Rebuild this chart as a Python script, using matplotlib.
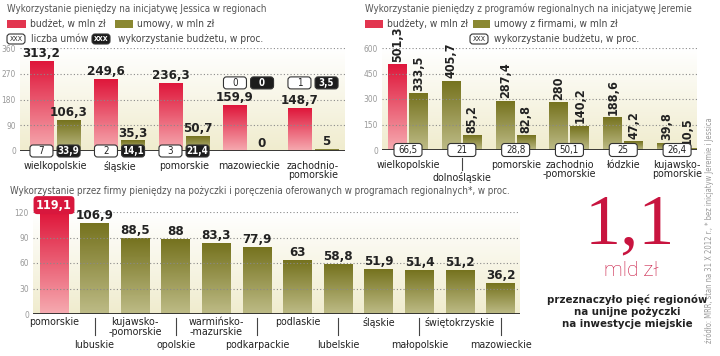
import numpy as np
import matplotlib.pyplot as plt
from matplotlib.colors import LinearSegmentedColormap
from matplotlib.patches import FancyBboxPatch, Rectangle
from matplotlib.transforms import IdentityTransform

plt.rcParams['font.family'] = ['DejaVu Sans']
plt.rcParams['font.stretch'] = 'condensed'

# --- Jessica (top left)
jes_regions = ['wielkopolskie', 'śląskie', 'pomorskie', 'mazowieckie', 'zachodnio-\npomorskie']
jes_budget = [313.2, 249.6, 236.3, 159.9, 148.7]
jes_deals = [106.3, 35.3, 50.7, 0, 5]
jes_count = ['7', '2', '3', '0', '1']
jes_pct = ['33,9', '14,1', '21,4', '0', '3,5']
jes_ticks = [0, 90, 180, 270, 360]

# --- Jeremie (top right)
jer_regions = ['wielkopolskie', 'dolnośląskie', 'pomorskie', 'zachodnio\n-pomorskie',
               'łódzkie', 'kujawsko-\npomorskie']
jer_first = [501.3, 405.7, 287.4, 280, 188.6, 39.8]
jer_second = [333.5, 85.2, 82.8, 140.2, 47.2, 10.5]
jer_pct = ['66,5', '21', '28,8', '50,1', '25', '26,4']
jer_ticks = [0, 150, 300, 450, 600]

# --- loans (bottom)
loan_regions = ['pomorskie', 'lubuskie', 'kujawsko-\n-pomorskie', 'opolskie',
                'warmińsko-\n-mazurskie', 'podkarpackie', 'podlaskie', 'lubelskie',
                'śląskie', 'małopolskie', 'świętokrzyskie', 'mazowieckie']
loan_pct = [119.1, 106.9, 88.5, 88, 83.3, 77.9, 63, 58.8, 51.9, 51.4, 51.2, 36.2]
loan_ticks = [0, 30, 60, 90, 120]

RED_TOP, RED_BOT = '#df173b', '#f6aab0'
OLV_TOP, OLV_BOT = '#76731f', '#bdbb86'
BG_BOT, BG_TOP = '#f0ecce', '#ffffff'
W, H = 720, 356
LAB_FS = 7.7
VAL_FS = 9

fig = plt.figure(figsize=(7.2, 3.56), dpi=100)


def fmt(v):
    return f'{v:g}'.replace('.', ',')


def px_axes(l, r, top, bot):
    return fig.add_axes([l / W, 1 - bot / H, (r - l) / W, (bot - top) / H])


def setup(ax, xlim, ticks):
    ylim = (0, ticks[-1])
    cm = LinearSegmentedColormap.from_list('bg', [BG_BOT, BG_TOP])
    ax.imshow(np.linspace(0, 1, 64).reshape(-1, 1), cmap=cm, origin='lower',
              extent=(*xlim, *ylim), aspect='auto', zorder=0)
    for t in ticks[1:]:
        ax.axhline(t, color='#8a8a8a', lw=0.8, ls=(0, (1, 2)), zorder=2.5)
    ax.axhline(0, color='#2a2a2a', lw=1.3, zorder=3)
    ax.set_xlim(xlim)
    ax.set_ylim(ylim)
    ax.set_yticks(ticks)
    ax.set_xticks([])
    ax.tick_params(axis='y', length=0, labelsize=6, labelcolor='#999999', pad=3)
    for s in ax.spines.values():
        s.set_visible(False)


def grad_bar(ax, x, h, w, top, bot):
    if h <= 0:
        return
    cm = LinearSegmentedColormap.from_list('b', [bot, top])
    ax.imshow(np.linspace(0, 1, 64).reshape(-1, 1), cmap=cm, origin='lower',
              extent=(x - w / 2, x + w / 2, 0, h), aspect='auto', zorder=2)


def pbox(cx, cy, w, h, text, dark=False, fs=7):
    # cx, cy in image pixels (y down)
    fc, tc = ('#1c1c1c', 'white') if dark else ('white', '#222222')
    p = FancyBboxPatch((cx - w / 2, H - cy - h / 2), w, h,
                       boxstyle='round,pad=0,rounding_size=3',
                       transform=IdentityTransform(), fc=fc, ec='#333333', lw=0.8,
                       zorder=6)
    fig.add_artist(p)
    fig.text(cx / W, 1 - cy / H, text, ha='center', va='center', fontsize=fs,
             color=tc, fontweight='bold' if dark else 'normal', zorder=7)


def to_px(ax, x, y):
    dx, dy = ax.transData.transform((x, y))
    return dx, H - dy


# ---------------- panel 1
ax1 = px_axes(20, 345, 48, 151)
xl1 = (-0.543, 4.496)
setup(ax1, xl1, jes_ticks)
bw1, off1 = 0.36, 0.21
for i in range(len(jes_regions)):
    grad_bar(ax1, i - off1, jes_budget[i], bw1, RED_TOP, RED_BOT)
    grad_bar(ax1, i + off1, jes_deals[i], bw1, OLV_TOP, OLV_BOT)
    for x, v in ((i - off1, jes_budget[i]), (i + off1, jes_deals[i])):
        ax1.annotate(fmt(v), (x, v), xytext=(0, 1), textcoords='offset points',
                     ha='center', va='bottom', fontsize=VAL_FS + 0.5, fontweight='bold',
                     color='#222222', annotation_clip=False)
    ax1.annotate(jes_regions[i], (i, 0), xytext=(0, -7), textcoords='offset points',
                 ha='center', va='top', fontsize=LAB_FS, color='#222222',
                 linespacing=0.95, annotation_clip=False)
ax1.set_xlim(xl1)
for i in range(len(jes_regions)):
    yv = 0 if jes_budget[i] > 200 else 238
    x0, y0 = to_px(ax1, i - off1, yv)
    x1, y1 = to_px(ax1, i + off1, yv)
    pbox(x0, y0, 23, 12, jes_count[i])
    pbox(x1, y1, 23, 12, jes_pct[i], dark=True)

# ---------------- panel 2
ax2 = px_axes(382, 697, 48, 150)
xl2 = (-0.483, 5.37)
setup(ax2, xl2, jer_ticks)
bw2, off2 = 0.353, 0.195
for i in range(len(jer_regions)):
    first_top, first_bot = (RED_TOP, RED_BOT) if i == 0 else (OLV_TOP, OLV_BOT)
    grad_bar(ax2, i - off2, jer_first[i], bw2, first_top, first_bot)
    grad_bar(ax2, i + off2, jer_second[i], bw2, OLV_TOP, OLV_BOT)
    for x, v in ((i - off2, jer_first[i]), (i + off2, jer_second[i])):
        ax2.annotate(fmt(v), (x, v), xytext=(0, 2), textcoords='offset points',
                     ha='center', va='bottom', rotation=90, fontsize=VAL_FS,
                     fontweight='bold', color='#222222', annotation_clip=False)
    low = (i == 1)
    ax2.annotate(jer_regions[i], (i, 0), xytext=(0, -15.5 if low else -7),
                 textcoords='offset points', ha='center', va='top', fontsize=LAB_FS,
                 color='#222222', linespacing=0.95, annotation_clip=False)
ax2.set_xlim(xl2)
for i in range(len(jer_regions)):
    cx, cy = to_px(ax2, i, 0)
    pbox(cx, cy, 28, 13, jer_pct[i])
cx, _ = to_px(ax2, 1, 0)
fig.add_artist(plt.Line2D([cx / W] * 2, [1 - 158 / H, 1 - 170 / H], color='#444444', lw=0.8))

# ---------------- panel 3
ax3 = px_axes(33, 520, 212, 314)
xl3 = (-0.517, 11.478)
setup(ax3, xl3, loan_ticks)
for i, v in enumerate(loan_pct):
    top, bot = (RED_TOP, RED_BOT) if i == 0 else (OLV_TOP, OLV_BOT)
    grad_bar(ax3, i, v, 0.71, top, bot)
    if i == 0:
        ax3.annotate(fmt(v), (i, v), xytext=(0, 5.5), textcoords='offset points',
                     ha='center', va='center', fontsize=VAL_FS, fontweight='bold',
                     color='white', annotation_clip=False,
                     bbox=dict(boxstyle='round,pad=0.2,rounding_size=0.3',
                               fc='#d8173d', ec='none'))
    else:
        ax3.annotate(fmt(v), (i, v), xytext=(0, 1), textcoords='offset points',
                     ha='center', va='bottom', fontsize=VAL_FS + 0.5, fontweight='bold',
                     color='#222222', annotation_clip=False)
    odd = i % 2 == 1
    ax3.annotate(loan_regions[i], (i, 0), xytext=(0, -18.5 if odd else -2.5),
                 textcoords='offset points', ha='center', va='top', fontsize=LAB_FS,
                 color='#222222', linespacing=0.95, annotation_clip=False)
ax3.set_xlim(xl3)
for i in range(1, len(loan_regions), 2):
    cx, _ = to_px(ax3, i, 0)
    fig.add_artist(plt.Line2D([cx / W] * 2, [1 - 318 / H, 1 - 335 / H],
                              color='#444444', lw=0.8))

# ---------------- titles and legends
tkw = dict(fontsize=7, color='#555555')
fig.text(7 / W, 1 - 9 / H, 'Wykorzystanie pieniędzy na inicjatywę Jessica w regionach',
         va='center', **tkw)
fig.text(365 / W, 1 - 9 / H,
         'Wykorzystanie pieniędzy z programów regionalnych na inicjatywę Jeremie',
         va='center', **tkw)
fig.text(10 / W, 1 - 191 / H,
         'Wykorzystanie przez firmy pieniędzy na pożyczki i poręczenia oferowanych '
         'w programach regionalnych*, w proc.', va='center', **tkw)


def patch(x, y, w, c):
    fig.add_artist(Rectangle((x / W, 1 - (y + 4) / H), w / W, 8 / H,
                             transform=fig.transFigure, fc=c, ec='none'))


lkw = dict(fontsize=7.3, color='#444444', va='center')
patch(7, 24, 19, '#e2354f')
fig.text(30 / W, 1 - 24 / H, 'budżet, w mln zł', **lkw)
patch(115, 24, 18, '#8a8832')
fig.text(137 / W, 1 - 24 / H, 'umowy, w mln zł', **lkw)
pbox(16, 39, 18, 10, 'XXX', fs=5)
fig.text(31 / W, 1 - 39 / H, 'liczba umów', **lkw)
pbox(101, 39, 18, 10, 'XXX', dark=True, fs=5)
fig.text(118 / W, 1 - 39 / H, 'wykorzystanie budżetu, w proc.', **lkw)

patch(365, 24, 18, '#e2354f')
fig.text(387 / W, 1 - 24 / H, 'budżety, w mln zł', **lkw)
patch(473, 24, 17, '#8a8832')
fig.text(494 / W, 1 - 24 / H, 'umowy z firmami, w mln zł', **lkw)
pbox(479, 39, 18, 10, 'XXX', fs=5)
fig.text(494 / W, 1 - 39 / H, 'wykorzystanie budżetu, w proc.', **lkw)

# ---------------- right note
fig.text(630 / W, 1 - 226 / H, '1,1', ha='center', va='center', fontsize=52,
         color='#c8143f', family=['Liberation Serif', 'DejaVu Serif'],
         fontstretch='normal')
fig.text(631 / W, 1 - 271 / H, 'mld zł', ha='center', va='center', fontsize=15,
         color='#c8143f', family=['Roboto', 'DejaVu Sans'], fontweight='light',
         fontstretch='normal')
fig.text(627 / W, 1 - 312 / H,
         'przeznaczyło pięć regionów\nna unijne pożyczki\nna inwestycje miejskie',
         ha='center', va='center', fontsize=8.2, fontweight='bold', color='#222222',
         linespacing=1.25)
fig.text(709 / W, 1 - 230 / H,
         'źródło: MRR, stan na 31 X 2012 r., * bez inicjatyw Jeremie i Jessica',
         rotation=90, ha='center', va='center', fontsize=5.5, color='#9a9a9a')

fig.savefig('out.png', dpi=100)
